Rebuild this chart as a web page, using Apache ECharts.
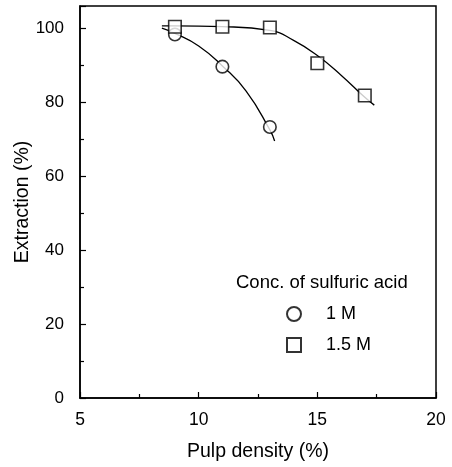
<!DOCTYPE html>
<html><head><meta charset="utf-8">
<script src="https://cdn.jsdelivr.net/npm/echarts@6/dist/echarts.min.js"></script>
<style>html,body{margin:0;padding:0;background:#fff}#c{width:452px;height:467px}</style>
</head><body><div id="c"></div>
<script>
const xTicks = [5, 10, 15, 20];
const yTicks = [0, 20, 40, 60, 80, 100];
const m1Points = [[9, 98.3], [11, 89.6], [13, 73.3]];
const m15Points = [[9, 100.4], [11, 100.4], [13, 100.2], [15, 90.5], [17, 81.8]];
const m1Curve = [[8.45, 100], [9, 98.6], [10, 95.2], [11, 89.8], [12, 83], [13, 72.5], [13.2, 69.5]];
const m15Curve = [[8.45, 100.6], [9, 100.6], [11, 100.4], [13, 99.4], [14, 96.7], [15, 92.6], [16, 87.3], [17, 81.3], [17.4, 79.2]];
const seriesNames = ['1 M', '1.5 M'];
const legendTitle = 'Conc. of sulfuric acid';

const FONT = 'Liberation Sans, Arial, Helvetica, sans-serif';
const chart = echarts.init(document.getElementById('c'));
const mk = {color: '#fff', borderColor: '#000', borderWidth: 1.6};
chart.setOption({
  animation: false,
  backgroundColor: '#fff',
  grid: {left: 80, right: 16, top: 6, bottom: 69, outerBoundsMode: 'none', containLabel: false,
    show: true, borderColor: '#000', borderWidth: 1.5, backgroundColor: 'transparent'},
  xAxis: {
    type: 'value', min: 5, max: 20, interval: 5,
    name: 'Pulp density (%)', nameLocation: 'middle', nameGap: 44, nameMoveOverlap: false,
    nameTextStyle: {fontFamily: FONT, fontSize: 19.5, color: '#000'},
    axisLine: {show: true, lineStyle: {color: '#000', width: 1.5}},
    axisTick: {show: true, inside: true, length: 6, lineStyle: {color: '#000', width: 1.2}},
    minorTick: {show: true, splitNumber: 2, length: 4, lineStyle: {color: '#000', width: 1.2}},
    axisLabel: {fontFamily: FONT, fontSize: 17.5, color: '#000', margin: 13,
      formatter: v => xTicks.includes(v) ? String(v) : ''},
    splitLine: {show: false}
  },
  yAxis: {
    type: 'value', min: 0, max: 106, interval: 20,
    name: 'Extraction (%)', nameLocation: 'middle', nameGap: 47, nameMoveOverlap: false,
    nameTextStyle: {fontFamily: FONT, fontSize: 19.5, color: '#000'},
    axisLine: {show: true, lineStyle: {color: '#000', width: 1.5}},
    axisTick: {show: true, inside: true, length: 6, lineStyle: {color: '#000', width: 1.2}},
    minorTick: {show: true, splitNumber: 2, length: 4, lineStyle: {color: '#000', width: 1.2}},
    axisLabel: {fontFamily: FONT, fontSize: 17, color: '#000', margin: 16,
      formatter: v => yTicks.includes(v) ? String(v) : ''},
    splitLine: {show: false}
  },
  legend: {
    orient: 'vertical', left: 286, top: 305, padding: 0, itemGap: 13, itemWidth: 14, itemHeight: 14,
    data: seriesNames,
    textStyle: {fontFamily: FONT, fontSize: 18, color: '#000', padding: [0, 0, 0, 20]}
  },
  graphic: [{
    type: 'text', left: 236, top: 273,
    style: {text: legendTitle, font: '18.5px ' + FONT, fill: '#000'}
  }],
  series: [
    {type: 'line', data: m1Curve, smooth: 0.5, symbol: 'none', lineStyle: {color: '#000', width: 1.3}, silent: true, z: 1},
    {type: 'line', data: m15Curve, smooth: 0.5, symbol: 'none', lineStyle: {color: '#000', width: 1.3}, silent: true, z: 1},
    {name: seriesNames[0], type: 'scatter', data: m1Points, symbol: 'circle', symbolSize: 12.5, itemStyle: mk, z: 3},
    {name: seriesNames[1], type: 'scatter', data: m15Points, symbol: 'rect', symbolSize: 12.5, itemStyle: mk, z: 3}
  ]
});
</script></body></html>
